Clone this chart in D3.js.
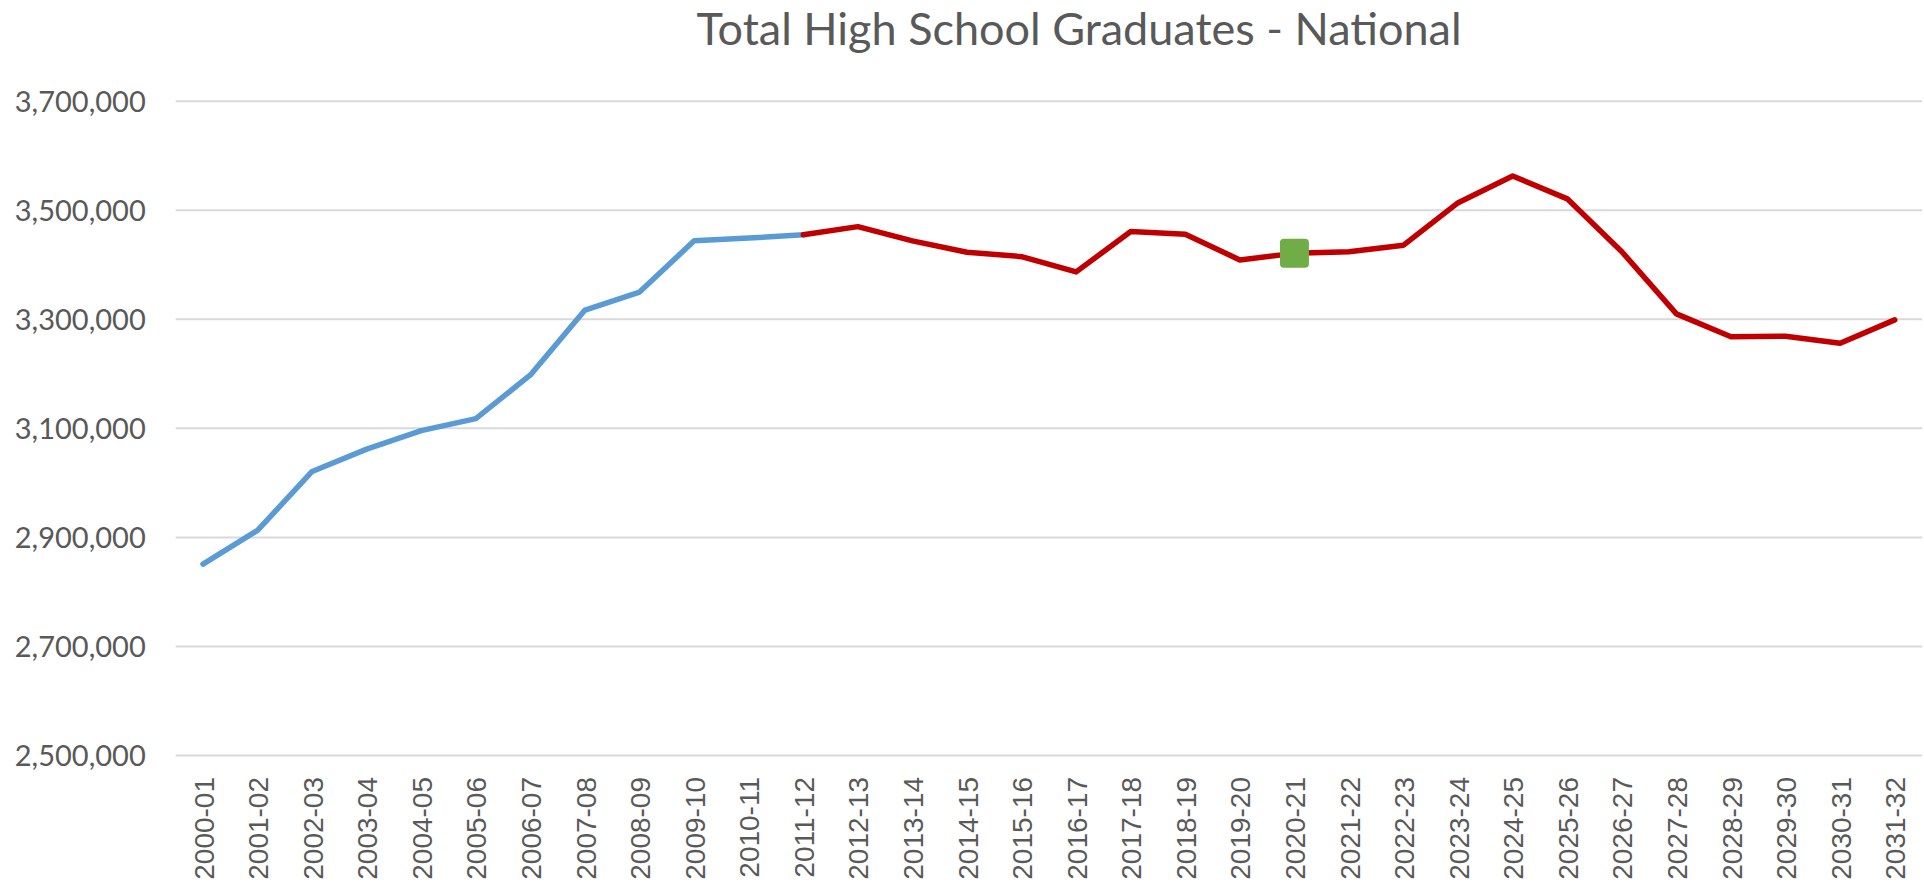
<!DOCTYPE html>
<html>
<head>
<meta charset="utf-8">
<script src="https://cdn.jsdelivr.net/npm/d3@7"></script>
<style>
  body { margin: 0; background: #fff; }
  .ylab text { font-family: Lato, "Open Sans", sans-serif; font-size: 29px; fill: #595959; }
  .xlab text { font-family: "Liberation Sans", Arial, sans-serif; font-size: 28px; fill: #595959; }
</style>
</head>
<body>
<div id="chart"></div>
<script>
// school years on the x axis
var years = ["2000-01","2001-02","2002-03","2003-04","2004-05","2005-06","2006-07","2007-08",
  "2008-09","2009-10","2010-11","2011-12","2012-13","2013-14","2014-15","2015-16",
  "2016-17","2017-18","2018-19","2019-20","2020-21","2021-22","2022-23","2023-24",
  "2024-25","2025-26","2026-27","2027-28","2028-29","2029-30","2030-31","2031-32"];

// total graduates
var graduates = [2850000, 2912000, 3020000, 3061000, 3095000, 3117000, 3197000, 3316000,
  3349000, 3443000, 3448000, 3454000, 3469000, 3443000, 3422000, 3414000,
  3386000, 3460000, 3455000, 3408000, 3420000, 3423000, 3435000, 3513000,
  3562000, 3520000, 3423000, 3309000, 3267000, 3268000, 3255000, 3298000];

var lastActual = "2011-12";     // blue up to here, red after
var highlightYear = "2020-21";  // green square marker
var yTicks = [2500000, 2700000, 2900000, 3100000, 3300000, 3500000, 3700000];
var title = "Total High School Graduates - National";

var svgWidth = 1924;
var svgHeight = 886;
var plotL = 175.7, plotR = 1922, plotT = 100.7, plotB = 755;

var svg = d3.select("#chart").append("svg")
  .attr("width", svgWidth)
  .attr("height", svgHeight);

var x = d3.scalePoint().domain(years).range([plotL, plotR]).padding(0.5);
var y = d3.scaleLinear().domain([2500000, 3700000]).range([plotB, plotT]);

// gridlines + y labels
var yAxis = d3.axisLeft(y)
  .tickValues(yTicks)
  .tickSize(-(plotR - plotL))
  .tickPadding(30)
  .tickFormat(d3.format(","));
var gy = svg.append("g")
  .attr("class", "ylab")
  .attr("transform", `translate(${plotL},0)`)
  .call(yAxis);
gy.select(".domain").remove();
gy.selectAll(".tick line").attr("stroke", "#d9d9d9").attr("stroke-width", 2);
gy.selectAll(".tick text").attr("dy", "0.36em");

// x labels rotated
var xAxis = d3.axisBottom(x).tickSize(0).tickPadding(0);
var gx = svg.append("g")
  .attr("class", "xlab")
  .attr("transform", `translate(0,${plotB})`)
  .call(xAxis);
gx.select(".domain").remove();
gx.selectAll(".tick text")
  .attr("transform", "rotate(-90)")
  .attr("text-anchor", "end")
  .attr("x", -22)
  .attr("y", 0)
  .attr("dy", "0.36em");

var pts = years.map((d, i) => ({ year: d, value: graduates[i] }));
var split = years.indexOf(lastActual);

var line = d3.line()
  .x(d => x(d.year))
  .y(d => y(d.value));

svg.append("path")
  .datum(pts.slice(0, split + 1))
  .attr("fill", "none")
  .attr("stroke", "#5b9bd5")
  .attr("stroke-width", 5.5)
  .attr("stroke-linejoin", "round")
  .attr("stroke-linecap", "round")
  .attr("d", line);

svg.append("path")
  .datum(pts.slice(split))
  .attr("fill", "none")
  .attr("stroke", "#c00000")
  .attr("stroke-width", 5.5)
  .attr("stroke-linejoin", "round")
  .attr("stroke-linecap", "round")
  .attr("d", line);

// highlighted point
var hp = pts.filter(d => d.year == highlightYear);
svg.selectAll("rect.marker")
  .data(hp)
  .enter()
  .append("rect")
  .attr("class", "marker")
  .attr("x", d => x(d.year) - 14.5)
  .attr("y", d => y(d.value) - 14.5)
  .attr("width", 29)
  .attr("height", 29)
  .attr("rx", 4)
  .attr("fill", "#70ad47");

svg.append("text")
  .attr("x", 1079)
  .attr("y", 45)
  .attr("text-anchor", "middle")
  .attr("font-family", "Lato, 'Open Sans', sans-serif")
  .attr("font-size", 45)
  .attr("fill", "#595959")
  .text(title);
</script>
</body>
</html>
